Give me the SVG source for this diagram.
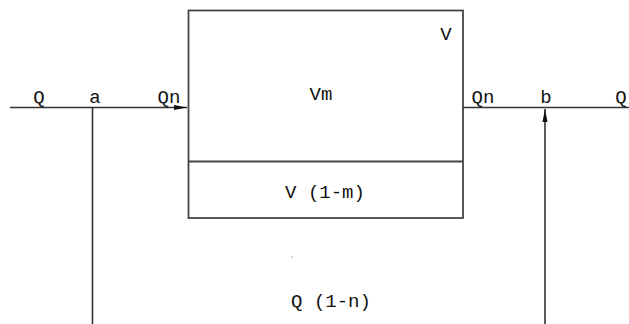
<svg xmlns="http://www.w3.org/2000/svg" width="629" height="324" viewBox="0 0 629 324">
<style>
.ln{stroke:#333;stroke-width:1.6;fill:none}
.bx{stroke:#444;stroke-width:1.8;fill:#fff}
.t{font-family:"Liberation Mono","Courier New",monospace;font-size:19px;fill:#111;text-anchor:middle}
</style>
<defs>
<marker id="ah" markerWidth="14" markerHeight="8" refX="13" refY="4" orient="auto" markerUnits="userSpaceOnUse">
<path d="M0,1.5 L13,4 L0,6.5 Z" fill="#111"/>
</marker>
</defs>
<rect width="629" height="324" fill="#fff"/>
<g id="tank">
<rect class="bx" x="188.5" y="10.5" width="274.5" height="207.5"/>
<line class="bx" x1="188.5" y1="161.5" x2="463" y2="161.5"/>
<text class="t" x="446" y="40">V</text>
<text class="t" x="321" y="100">Vm</text>
<text class="t" x="325" y="198">V (1-m)</text>
</g>
<g id="connectors">
<line class="ln" x1="10" y1="107.5" x2="187" y2="107.5" marker-end="url(#ah)"/>
<line class="ln" x1="463" y1="107.5" x2="629" y2="107.5"/>
<line class="ln" x1="92.5" y1="107.5" x2="92.5" y2="324"/>
<line class="ln" x1="545" y1="324" x2="545" y2="109" marker-end="url(#ah)"/>
</g>
<g id="point-a"><text class="t" x="95" y="103">a</text></g>
<g id="point-b"><text class="t" x="546" y="103">b</text></g>
<g id="labels">
<text class="t" x="39" y="103">Q</text>
<text class="t" x="169" y="103">Qn</text>
<text class="t" x="483" y="103">Qn</text>
<text class="t" x="621" y="103">Q</text>
<text class="t" x="331" y="307">Q (1-n)</text>
<circle cx="292" cy="257" r="0.7" fill="#888"/>
</g>
</svg>
